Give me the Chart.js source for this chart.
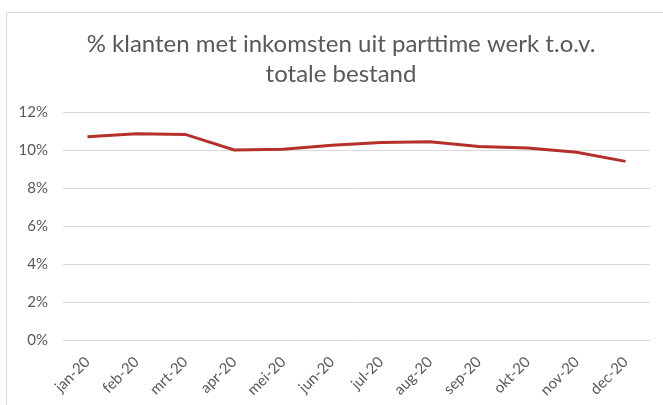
<!DOCTYPE html>
<html>
<head>
<meta charset="utf-8">
<script src="https://cdn.jsdelivr.net/npm/chart.js@4"></script>
<style>
  html, body { margin: 0; padding: 0; background: #fff; }
  #wrap { position: relative; width: 663px; height: 405px; overflow: hidden; }
  #frame { position: absolute; left: 6px; top: 12px; width: 700px; height: 450px;
           border-left: 1px solid #d9d9d9; border-top: 1px solid #d9d9d9; }
  canvas { position: absolute; left: 0; top: 0; }
</style>
</head>
<body>
<div id="wrap">
  <div id="frame"></div>
  <canvas id="chart" width="663" height="405"></canvas>
</div>
<script>
const months = ['jan-20', 'feb-20', 'mrt-20', 'apr-20', 'mei-20', 'jun-20',
                'jul-20', 'aug-20', 'sep-20', 'okt-20', 'nov-20', 'dec-20'];
const share = [10.7, 10.85, 10.82, 10.0, 10.04, 10.25, 10.4, 10.44, 10.18, 10.1, 9.88, 9.4];
const yTicks = [0, 2, 4, 6, 8, 10, 12];
const titleLines = ['% klanten met inkomsten uit parttime werk t.o.v.', 'totale bestand'];

const grey = '#595959';

new Chart(document.getElementById('chart'), {
  type: 'line',
  data: {
    labels: months,
    datasets: [{
      data: share,
      borderColor: '#b5302a',
      borderWidth: 3,
      pointRadius: 0,
      tension: 0,
      fill: false
    }]
  },
  options: {
    responsive: false,
    animation: false,
    layout: { padding: { left: 19, right: 0, top: 0, bottom: 0 } },
    plugins: {
      legend: { display: false },
      tooltip: { enabled: false },
      title: {
        display: true,
        text: titleLines,
        color: grey,
        font: { family: 'Lato', size: 24, weight: 'normal', lineHeight: 1.25 },
        padding: { top: 29, bottom: 23 }
      }
    },
    scales: {
      x: {
        offset: true,
        grid: { display: false, drawTicks: false },
        border: { display: false },
        ticks: {
          color: grey,
          font: { family: 'Lato', size: 15 },
          maxRotation: 45,
          minRotation: 45,
          padding: 13
        },
        afterFit: (s) => { s.height = 65; }
      },
      y: {
        min: 0,
        max: 12,
        afterBuildTicks: (s) => { s.ticks = yTicks.map(v => ({ value: v })); },
        grid: { color: '#d9d9d9', lineWidth: 1, drawTicks: false },
        border: { display: false },
        ticks: {
          color: grey,
          font: { family: 'Lato', size: 15 },
          padding: 15,
          callback: (v) => v + '%'
        },
        afterFit: (s) => { s.width = 44; }
      },
      // empty right margin so the title centres like the original
      yRight: {
        position: 'right',
        grid: { display: false, drawTicks: false },
        border: { display: false },
        ticks: { display: false },
        afterFit: (s) => { s.width = 13; }
      }
    }
  }
});
</script>
</body>
</html>
